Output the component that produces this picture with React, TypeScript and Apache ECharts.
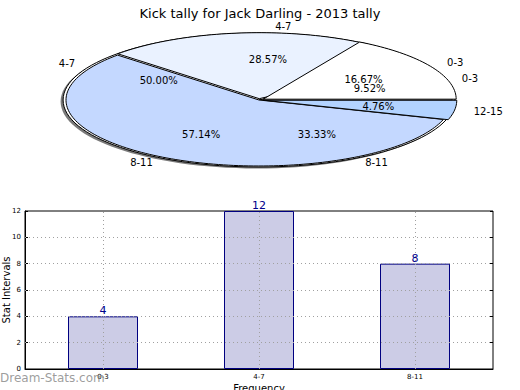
import React, { useEffect, useRef } from "react";
import * as echarts from "echarts";

const chartTitle = "Kick tally for Jack Darling - 2013 tally";
const pieACategories = ["0-3", "4-7", "8-11"];
const pieAValues = [4, 12, 8];
const pieBCategories = ["0-3", "4-7", "8-11", "12-15"];
const pieBValues = [2, 6, 12, 1];
const barCategories = ["0-3", "4-7", "8-11"];
const barValues = [4, 12, 8];
const yTicks = [2, 4, 6, 8, 10];

const FONT = "DejaVu Sans";
const CX = 259;
const CY = 100;
const RX = 193;
const RY = 66;

const pieAColors = ["#ffffff", "none", "none"];
const pieAStrokes = ["#000000", "none", "none"];
const pieAExplode = [0.025, 0, 0];
const pieBColors = ["#ffffff", "#eaf2ff", "#c4d8ff", "#b3d3ff"];
const pieBExplode = [0, 0.02, 0, 0.025];

function sum(a: number[]) {
  return a.reduce((s, v) => s + v, 0);
}

function wedgeGeom(values: number[], explode: number[], i: number) {
  const total = sum(values);
  const start = (sum(values.slice(0, i)) / total) * 360;
  const end = start + (values[i] / total) * 360;
  const mid = (((start + end) / 2) * Math.PI) / 180;
  const ox = CX + explode[i] * RX * Math.cos(mid);
  const oy = CY - explode[i] * RY * Math.sin(mid);
  return { start, end, mid, ox, oy, pct: (values[i] / total) * 100 };
}

function arcPoints(ox: number, oy: number, start: number, end: number) {
  const pts: number[][] = [[ox, oy]];
  const steps = Math.max(4, Math.ceil((end - start) / 1.5));
  for (let k = 0; k <= steps; k++) {
    const a = ((start + ((end - start) * k) / steps) * Math.PI) / 180;
    pts.push([ox + RX * Math.cos(a), oy - RY * Math.sin(a)]);
  }
  return pts;
}

function wedgeRender(values: number[], explode: number[], fills: string[], strokes: string[]) {
  return (params: any) => {
    const i = params.dataIndex;
    const g = wedgeGeom(values, explode, i);
    return {
      type: "polygon",
      shape: { points: arcPoints(g.ox, g.oy, g.start, g.end) },
      style: { fill: fills[i], stroke: strokes[i], lineWidth: 1 },
      silent: true,
    };
  };
}

function labelRender(values: number[], explode: number[], cats: string[]) {
  return (params: any) => {
    const i = params.dataIndex;
    const g = wedgeGeom(values, explode, i);
    const c = Math.cos(g.mid);
    const s = Math.sin(g.mid);
    return {
      type: "group",
      silent: true,
      children: [
        {
          type: "text",
          style: {
            x: g.ox + 0.6 * RX * c,
            y: g.oy - 0.6 * RY * s,
            text: g.pct.toFixed(2) + "%",
            fill: "#000",
            font: `10px "${FONT}"`,
            align: "center",
            verticalAlign: "middle",
          },
        },
        {
          type: "text",
          style: {
            x: g.ox + 1.1 * RX * c,
            y: g.oy - 1.1 * RY * s,
            text: cats[i],
            fill: "#000",
            font: `10px "${FONT}"`,
            align: c > 0 ? "left" : "right",
            verticalAlign: "middle",
          },
        },
      ],
    };
  };
}

export default function App() {
  const ref = useRef<HTMLDivElement>(null);
  useEffect(() => {
    document.body.style.margin = "0";
    const chart = echarts.init(ref.current!, null, { renderer: "svg" });
    const option: any = {
      animation: false,
      title: {
        text: chartTitle,
        left: "center",
        top: 2,
        textStyle: { fontSize: 13, fontWeight: "normal", fontFamily: FONT, color: "#000" },
      },
      grid: {
        left: 25,
        right: 27,
        top: 211,
        bottom: 21,
        show: true,
        borderColor: "#000",
        borderWidth: 1,
        backgroundColor: "#fff",
        containLabel: false,
        outerBoundsMode: "none",
      },
      xAxis: {
        type: "category",
        data: barCategories,
        axisLine: { lineStyle: { color: "#000" } },
        axisTick: { show: true, alignWithLabel: true, inside: true, length: 3, lineStyle: { color: "#000" } },
        axisLabel: { fontSize: 7, color: "#000", fontFamily: FONT, margin: 4 },
        splitLine: { show: false },
        name: "Frequency",
        nameLocation: "middle",
        nameGap: 14,
        nameMoveOverlap: false,
        nameTextStyle: { fontSize: 10, fontFamily: FONT, color: "#000" },
      },
      yAxis: [
        {
          type: "value",
          min: 0,
          max: 12,
          interval: 2,
          axisLine: { show: true, lineStyle: { color: "#000" } },
          axisTick: { show: true, inside: true, length: 3, lineStyle: { color: "#000" } },
          axisLabel: { fontSize: 7, color: "#000", fontFamily: FONT, margin: 4 },
          splitLine: { show: false },
          name: "Stat Intervals",
          nameLocation: "middle",
          nameGap: 14,
          nameMoveOverlap: false,
          nameTextStyle: { fontSize: 10, fontFamily: FONT, color: "#000" },
        },
        {
          type: "value",
          position: "right",
          min: 0,
          max: 12,
          interval: 2,
          axisLine: { show: false },
          axisTick: { show: true, inside: true, length: 3, lineStyle: { color: "#000" } },
          axisLabel: { show: false },
          splitLine: { show: false },
        },
      ],
      graphic: [
        {
          type: "text",
          left: 0,
          top: 372,
          z: 100,
          style: {
            text: "Dream-Stats.com",
            fill: "rgba(140,140,140,0.85)",
            font: `12px "${FONT}"`,
          },
        },
      ],
      series: [
        {
          type: "custom",
          coordinateSystem: "none",
          silent: true,
          data: [sum(pieAValues)],
          renderItem: () => ({
            type: "group",
            children: [
              {
                type: "ellipse",
                shape: { cx: CX - 2.5, cy: CY + 1.5, rx: RX * 1.015, ry: RY * 1.015 },
                style: { fill: "#7a7a7a" },
              },
              {
                type: "ellipse",
                shape: { cx: CX, cy: CY, rx: RX * 1.015, ry: RY * 1.015 },
                style: { fill: "#ffffff", stroke: "#000", lineWidth: 1 },
              },
            ],
          }),
        },
        {
          type: "custom",
          coordinateSystem: "none",
          silent: true,
          data: pieBValues,
          renderItem: wedgeRender(pieBValues, pieBExplode, pieBColors, pieBColors.map(() => "#000")),
        },
        {
          type: "custom",
          coordinateSystem: "none",
          silent: true,
          data: pieAValues,
          renderItem: wedgeRender(pieAValues, pieAExplode, pieAColors, pieAStrokes),
        },
        {
          type: "custom",
          coordinateSystem: "none",
          silent: true,
          data: pieBValues,
          renderItem: labelRender(pieBValues, pieBExplode, pieBCategories),
        },
        {
          type: "custom",
          coordinateSystem: "none",
          silent: true,
          data: pieAValues,
          renderItem: labelRender(pieAValues, pieAExplode, pieACategories),
        },
        {
          type: "bar",
          data: barValues,
          barWidth: 70,
          itemStyle: { color: "#ccccE6", borderColor: "#000080", borderWidth: 1 },
          label: {
            show: true,
            position: "top",
            distance: 0,
            color: "#00008b",
            fontSize: 11,
            fontFamily: FONT,
          },
          markLine: {
            silent: true,
            symbol: ["none", "none"],
            label: { show: false },
            lineStyle: { type: [1, 3], color: "#a0a0a0", width: 1 },
            emphasis: { disabled: true },
            data: [
              ...barCategories.map((c) => ({ xAxis: c })),
              ...yTicks.map((v) => ({ yAxis: v })),
            ],
          },
        },
      ],
    };
    chart.setOption(option);
    return () => chart.dispose();
  }, []);
  return <div ref={ref} style={{ width: 520, height: 390 }} />;
}
